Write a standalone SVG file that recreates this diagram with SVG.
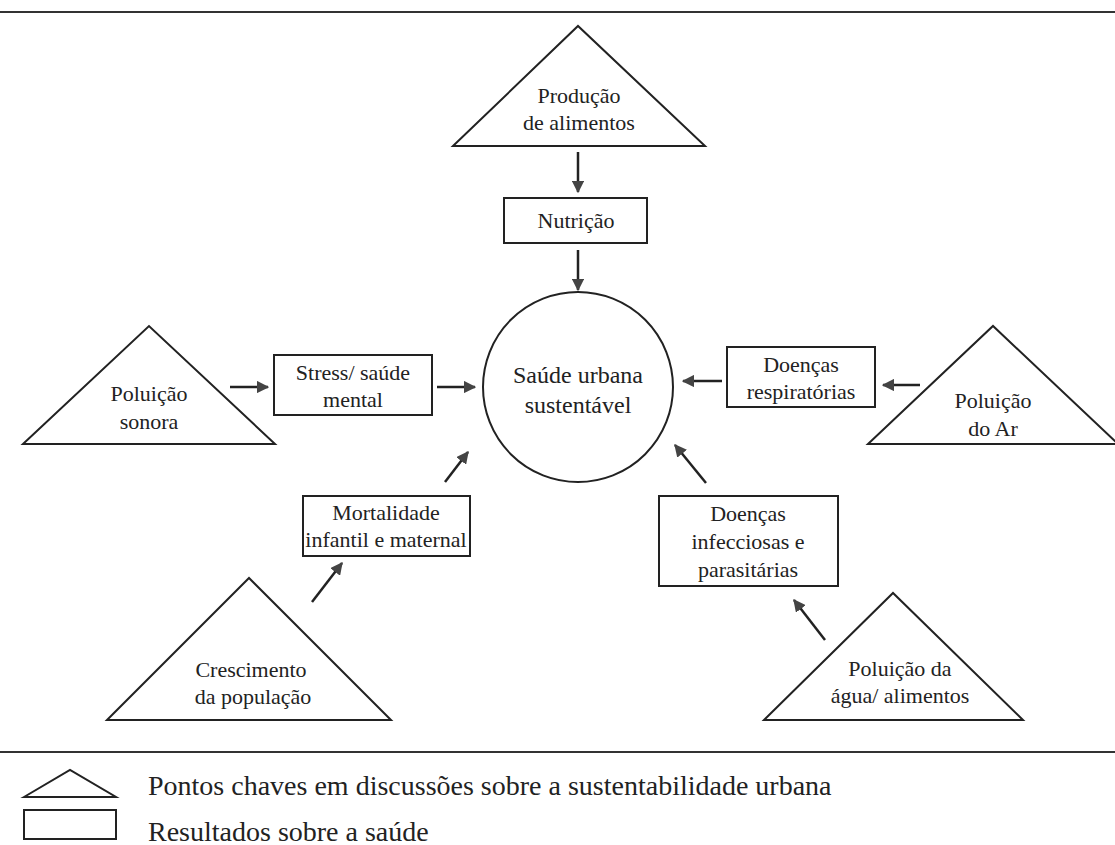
<svg xmlns="http://www.w3.org/2000/svg" width="1115" height="845" viewBox="0 0 1115 845">
<defs>
<style>
.s{fill:#fff;stroke:#222;stroke-width:2}
.t{font-family:"Liberation Serif","Times New Roman","DejaVu Serif",serif;font-size:22px;fill:#222;text-anchor:middle}
.big{font-size:24px}
.lt{font-family:"Liberation Serif","Times New Roman","DejaVu Serif",serif;font-size:28px;fill:#222}
.c{stroke:#222;stroke-width:2.5;fill:none;marker-end:url(#ah)}
.rule{stroke:#333;stroke-width:2}
</style>
<marker id="ah" viewBox="0 0 10 10" refX="9" refY="5" markerWidth="5" markerHeight="5" orient="auto" markerUnits="strokeWidth">
<path d="M0,0 L10,5 L0,10 z" fill="#444"/>
</marker>
</defs>
<rect width="1115" height="845" fill="#fff"/>
<line class="rule" x1="0" y1="12" x2="1115" y2="12"/>
<line class="rule" x1="0" y1="752" x2="1115" y2="752"/>

<g id="producao">
<polygon class="s" points="453,146 578,26 705,146"/>
<text class="t" x="579" y="103">Produção</text>
<text class="t" x="579" y="130">de alimentos</text>
</g>
<g id="nutricao">
<rect class="s" x="504" y="198" width="143" height="45"/>
<text class="t" x="576" y="228">Nutrição</text>
</g>
<g id="saude">
<circle class="s" cx="578" cy="387" r="95"/>
<text class="t big" x="578" y="383">Saúde urbana</text>
<text class="t big" x="578" y="413">sustentável</text>
</g>
<g id="sonora">
<polygon class="s" points="23,444 149,326 275,444"/>
<text class="t" x="149" y="401">Poluição</text>
<text class="t" x="149" y="429">sonora</text>
</g>
<g id="stress">
<rect class="s" x="274" y="355" width="158" height="60"/>
<text class="t" x="353" y="380">Stress/ saúde</text>
<text class="t" x="353" y="407">mental</text>
</g>
<g id="respiratorias">
<rect class="s" x="727" y="347" width="148" height="60"/>
<text class="t" x="801" y="372">Doenças</text>
<text class="t" x="801" y="399">respiratórias</text>
</g>
<g id="ar">
<polygon class="s" points="868,444 993,326 1118,444"/>
<text class="t" x="993" y="408">Poluição</text>
<text class="t" x="993" y="436">do Ar</text>
</g>
<g id="mortalidade">
<rect class="s" x="303" y="496" width="167" height="60"/>
<text class="t" x="386" y="520">Mortalidade</text>
<text class="t" x="386" y="547">infantil e maternal</text>
</g>
<g id="infecciosas">
<rect class="s" x="659" y="496" width="179" height="90"/>
<text class="t" x="748" y="521">Doenças</text>
<text class="t" x="748" y="549">infecciosas e</text>
<text class="t" x="748" y="577">parasitárias</text>
</g>
<g id="crescimento">
<polygon class="s" points="107,720 249,578 391,720"/>
<text class="t" x="251" y="677">Crescimento</text>
<text class="t" x="253" y="704">da população</text>
</g>
<g id="agua">
<polygon class="s" points="764,720 893,593 1023,720"/>
<text class="t" x="900" y="676">Poluição da</text>
<text class="t" x="900" y="703">água/ alimentos</text>
</g>

<g id="connectors">
<line class="c" x1="578" y1="152" x2="578" y2="192"/>
<line class="c" x1="578" y1="250" x2="578" y2="290"/>
<line class="c" x1="230" y1="387" x2="268" y2="387"/>
<line class="c" x1="437" y1="387" x2="475" y2="387"/>
<line class="c" x1="722" y1="381" x2="683" y2="381"/>
<line class="c" x1="920" y1="385" x2="883" y2="385"/>
<line class="c" x1="445" y1="482" x2="468" y2="452"/>
<line class="c" x1="312" y1="602" x2="342" y2="563"/>
<line class="c" x1="706" y1="483" x2="675" y2="445"/>
<line class="c" x1="825" y1="640" x2="794" y2="600"/>
</g>

<g id="legend">
<polygon class="s" points="24,797 70,770 116,797"/>
<rect class="s" x="24" y="810" width="92" height="29"/>
<text class="lt" x="148" y="795">Pontos chaves em discussões sobre a sustentabilidade urbana</text>
<text class="lt" x="148" y="841">Resultados sobre a saúde</text>
</g>
</svg>
